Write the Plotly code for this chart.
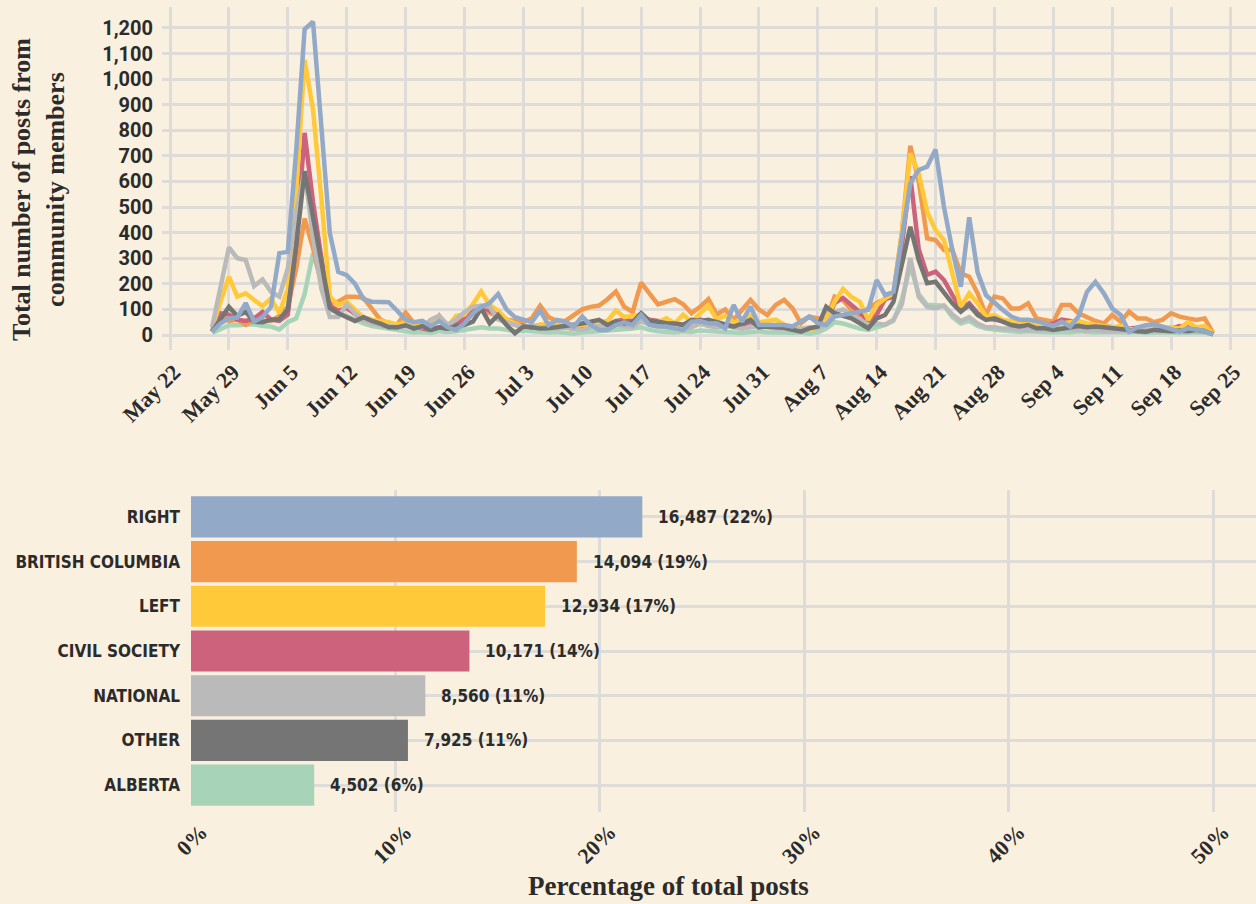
import pandas as pd
import plotly.graph_objects as go

W, H = 1256, 904
BG = "#FAF0DF"
GRID = "#DEDCD8"
INK = "#2B2B2B"

SERIF = "Liberation Serif, DejaVu Serif, serif"
NARROW = "Liberation Sans Narrow, DejaVu Sans Condensed, Roboto, sans-serif"
HEAVY = "Roboto, Inter, sans-serif"

# ---- daily posts, May 27 -> Sep 23 (one value per day) ----
START = "2023-05-27"

right = [
    13, 45, 65, 68, 125, 52, 70, 110, 320, 325,
    720, 1195, 1225, 820, 398, 247, 234, 200, 140, 130,
    130, 128, 95, 60, 50, 55, 35, 55, 30, 20,
    45, 85, 110, 125, 160, 100, 70, 60, 50, 95,
    39, 59, 52, 33, 72, 39, 20, 20, 39, 49,
    39, 78, 39, 33, 33, 26, 20, 52, 55, 45,
    46, 26, 117, 52, 111, 39, 39, 39, 39, 33,
    52, 72, 46, 39, 72, 78, 85, 91, 98, 215,
    156, 169, 370, 593, 645, 658, 725, 500, 332, 189,
    460, 245, 156, 124, 98, 72, 60, 60, 55, 45,
    35, 52, 33, 72, 169, 208, 163, 104, 78, 13,
    30, 38, 42, 33, 22, 13, 26, 20, 16, 2,
]
british_columbia = [
    15, 80, 55, 60, 40, 60, 55, 55, 75, 110,
    260, 455, 340, 200, 125, 130, 150, 150, 145, 100,
    60, 45, 40, 88, 45, 45, 30, 75, 30, 50,
    70, 95, 100, 85, 75, 60, 55, 50, 65, 115,
    70, 55, 55, 80, 100, 110, 115, 140, 170, 110,
    90, 205, 160, 120, 130, 140, 120, 85, 110, 140,
    80, 100, 60, 100, 137, 100, 78, 117, 137, 104,
    46, 72, 65, 59, 150, 137, 98, 78, 104, 125,
    140, 160, 400, 740, 600, 378, 371, 332, 332, 241,
    228, 163, 78, 150, 143, 104, 104, 124, 65, 60,
    52, 117, 117, 85, 70, 55, 45, 78, 52, 91,
    65, 65, 50, 60, 85, 72, 65, 59, 65, 7,
]
left = [
    30, 130, 228, 150, 163, 137, 113, 143, 85, 180,
    560, 1075, 880, 530, 150, 117, 130, 98, 70, 60,
    55, 50, 40, 50, 40, 35, 45, 60, 30, 75,
    80, 120, 170, 117, 95, 60, 45, 30, 35, 40,
    45, 40, 35, 30, 40, 35, 50, 55, 95, 70,
    75, 80, 55, 50, 65, 45, 80, 50, 85, 115,
    60, 75, 50, 55, 75, 50, 55, 60, 40, 30,
    25, 20, 30, 60, 130, 180, 149, 130, 59, 117,
    143, 163, 400, 710, 632, 482, 410, 371, 241, 110,
    163, 124, 72, 78, 59, 55, 50, 45, 40, 40,
    35, 45, 50, 55, 45, 40, 35, 30, 35, 25,
    20, 25, 30, 28, 30, 25, 50, 30, 35, 5,
]
civil_society = [
    15, 85, 80, 60, 55, 65, 90, 60, 55, 80,
    350, 790, 520, 300, 115, 95, 105, 85, 60, 50,
    40, 35, 30, 40, 35, 25, 20, 30, 25, 40,
    60, 95, 110, 95, 80, 60, 40, 35, 30, 40,
    30, 35, 30, 25, 35, 40, 45, 40, 55, 60,
    55, 70, 60, 55, 50, 45, 40, 55, 60, 50,
    45, 40, 35, 40, 50, 40, 35, 30, 30, 25,
    20, 25, 30, 50, 125, 145, 120, 90, 50, 80,
    140, 150, 350, 620, 335, 235, 248, 215, 156, 104,
    124, 85, 65, 60, 55, 50, 45, 40, 40, 35,
    45, 60, 55, 45, 40, 40, 35, 30, 30, 25,
    28, 25, 25, 30, 25, 35, 30, 30, 25, 5,
]
national = [
    30, 190, 342, 300, 293, 191, 217, 169, 150, 260,
    480, 640, 380, 180, 70, 70, 120, 85, 60, 45,
    40, 35, 30, 35, 30, 30, 60, 75, 40, 60,
    90, 110, 115, 110, 60, 50, 40, 30, 35, 30,
    30, 25, 30, 25, 20, 30, 35, 30, 40, 35,
    30, 55, 40, 35, 30, 25, 20, 30, 45, 35,
    30, 35, 30, 25, 30, 35, 30, 25, 25, 20,
    25, 30, 25, 40, 90, 100, 80, 60, 40, 45,
    40, 60, 120, 300, 150, 110, 105, 115, 80, 55,
    70, 45, 30, 30, 25, 25, 20, 20, 20, 18,
    20, 25, 22, 20, 18, 20, 15, 15, 18, 15,
    15, 20, 18, 15, 15, 15, 18, 15, 12, 3,
]
other = [
    13, 60, 110, 74, 91, 52, 50, 60, 62, 100,
    350, 640, 460, 267, 105, 85, 72, 55, 70, 55,
    45, 30, 30, 38, 25, 35, 20, 30, 25, 35,
    39, 52, 104, 46, 78, 39, 7, 33, 30, 25,
    26, 30, 35, 40, 45, 52, 59, 39, 52, 45,
    50, 85, 55, 52, 46, 45, 39, 59, 55, 59,
    50, 39, 33, 45, 59, 30, 33, 30, 28, 20,
    13, 26, 33, 110, 85, 75, 65, 46, 26, 65,
    78, 130, 280, 423, 293, 202, 208, 163, 124, 91,
    117, 78, 59, 65, 52, 39, 33, 39, 26, 26,
    20, 26, 30, 35, 30, 33, 30, 28, 25, 20,
    15, 13, 20, 18, 15, 18, 15, 20, 15, 3,
]
alberta = [
    8, 25, 38, 38, 40, 42, 35, 33, 22, 50,
    65, 160, 320, 210, 100, 85, 75, 60, 45, 35,
    30, 25, 20, 15, 10, 12, 8, 15, 12, 15,
    20, 25, 30, 25, 25, 20, 15, 18, 15, 12,
    10, 12, 8, 5, 10, 12, 15, 18, 20, 22,
    25, 30, 20, 15, 12, 10, 15, 12, 18, 15,
    12, 10, 10, 8, 12, 15, 10, 12, 10, 8,
    10, 5, 10, 25, 50, 45, 35, 25, 20, 30,
    40, 55, 140, 270, 160, 118, 115, 115, 70, 45,
    55, 35, 25, 20, 18, 15, 12, 15, 12, 10,
    10, 12, 10, 15, 12, 10, 12, 10, 8, 10,
    12, 8, 10, 12, 10, 8, 10, 8, 10, 2,
]

# ---- totals per community (bar chart) ----
groups = ["RIGHT", "BRITISH COLUMBIA", "LEFT", "CIVIL SOCIETY", "NATIONAL", "OTHER", "ALBERTA"]
totals = [16487, 14094, 12934, 10171, 8560, 7925, 4502]
colors = ["#93A9C8", "#F0994F", "#FFC93A", "#CC627B", "#BABABA", "#757575", "#A7D4B8"]

daily = {
    "RIGHT": right, "BRITISH COLUMBIA": british_columbia, "LEFT": left,
    "CIVIL SOCIETY": civil_society, "NATIONAL": national, "OTHER": other, "ALBERTA": alberta,
}
color_of = dict(zip(groups, colors))
dates = pd.date_range(START, periods=len(right), freq="D")

fig = go.Figure()

# lines drawn alphabetically, so RIGHT ends up on top
for name in sorted(groups):
    fig.add_trace(go.Scatter(
        x=dates, y=daily[name], mode="lines", name=name,
        line={"color": color_of[name], "width": 4.5},
        xaxis="x", yaxis="y", hoverinfo="skip",
    ))

grand = sum(totals)
pct = [100 * t / grand for t in totals]
fig.add_trace(go.Bar(
    x=pct, y=groups, orientation="h", width=0.92,
    marker={"color": colors, "line": {"width": 0}},
    xaxis="x2", yaxis="y2", hoverinfo="skip",
))
for g, p, t in zip(groups, pct, totals):
    fig.add_annotation(
        x=p, y=g, xref="x2", yref="y2", xanchor="left", xshift=14,
        text=f"{t:,} ({round(p)}%)", showarrow=False,
        font={"family": NARROW, "size": 17, "color": INK, "weight": "bold"},
    )

fig.add_annotation(
    x=38 / W, y=1 - 190 / H, xref="paper", yref="paper",
    text="Total number of posts from<br>community members", textangle=-90,
    showarrow=False, xanchor="center", yanchor="middle",
    font={"family": SERIF, "size": 26, "color": INK, "weight": "bold"},
)
fig.add_annotation(
    x=668 / W, y=1 - 886 / H, xref="paper", yref="paper",
    text="Percentage of total posts", showarrow=False,
    xanchor="center", yanchor="middle",
    font={"family": SERIF, "size": 27, "color": INK, "weight": "bold"},
)

grid = dict(showgrid=True, gridcolor=GRID, gridwidth=2.7, zeroline=False,
            showline=False, ticks="", automargin=False)

fig.update_layout(
    width=W, height=H,
    paper_bgcolor=BG, plot_bgcolor=BG,
    margin=dict(l=0, r=0, t=0, b=0),
    showlegend=False,
    xaxis=dict(
        domain=[162 / W, 1], anchor="y", type="date",
        range=["2023-05-21 01:10", "2023-09-28 02:10"],
        tick0="2023-05-22", dtick=7 * 86400000, tickformat="%b %-d",
        tickangle=-45, ticklabelstandoff=4, ticklabelshift=4,
        tickfont={"family": SERIF, "size": 22, "color": INK, "weight": "bold"},
        **grid,
    ),
    yaxis=dict(
        domain=[1 - 350 / H, 1 - 7 / H], anchor="x",
        range=[-58.6, 1282], tick0=0, dtick=100, tickformat=",",
        ticklabelstandoff=8,
        tickfont={"family": HEAVY, "size": 20, "color": INK, "weight": "bold"},
        **grid,
    ),
    xaxis2=dict(
        domain=[191 / W, 1], anchor="y2",
        range=[0, 52.1], tick0=0, dtick=10, ticksuffix="%",
        tickangle=-45, ticklabelstandoff=2, ticklabelshift=10,
        tickfont={"family": SERIF, "size": 22, "color": INK, "weight": "bold"},
        **grid,
    ),
    yaxis2=dict(
        domain=[1 - 812 / H, 1 - 490 / H], anchor="x2",
        type="category", categoryorder="array", categoryarray=groups,
        range=[6.6, -0.6], ticklabelstandoff=10,
        tickfont={"family": NARROW, "size": 17, "color": INK, "weight": "bold"},
        **grid,
    ),
)

fig.write_html(
    "out.html",
    config={"displayModeBar": False},
    post_script="document.body.style.margin='0';"
                "document.body.style.background='" + BG + "';",
)
